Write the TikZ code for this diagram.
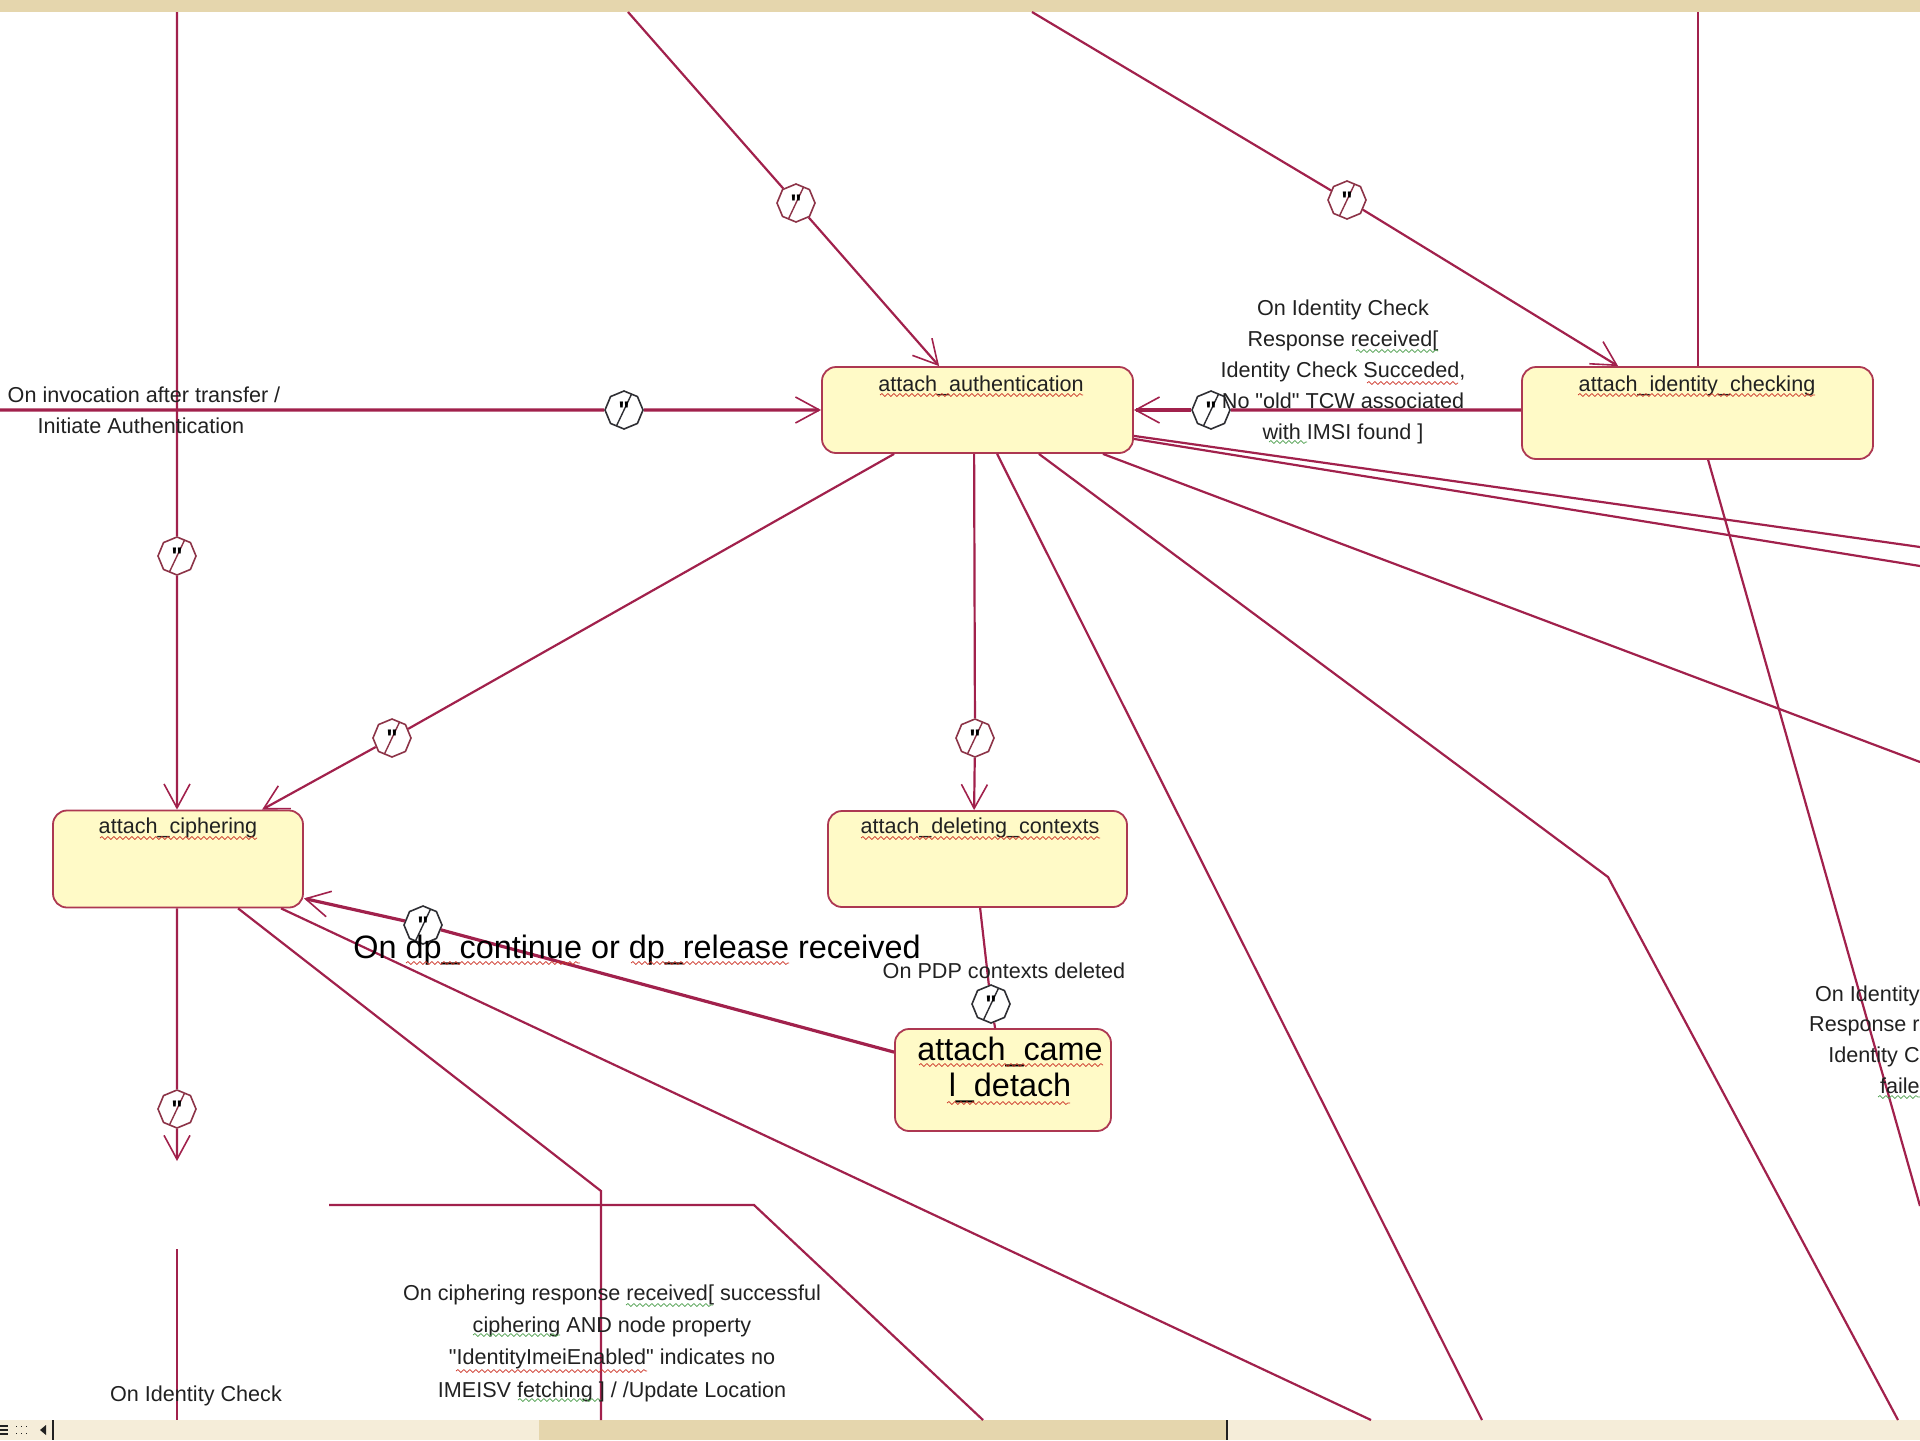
\documentclass[tikz,border=0pt]{standalone}
\usepackage{fontspec}
\setmainfont{Liberation Sans}[Ligatures=TeXOff]
\usetikzlibrary{arrows.meta,calc,decorations.pathmorphing,shapes.geometric}

\definecolor{wire}{rgb}{0.63,0.13,0.30}
\definecolor{stateline}{rgb}{0.68,0.22,0.32}
\definecolor{statefill}{rgb}{1.00,0.98,0.78}
\definecolor{ink}{rgb}{0.13,0.13,0.13}
\definecolor{guardred}{rgb}{0.55,0.20,0.28}
\definecolor{guardgrey}{rgb}{0.18,0.18,0.20}
\definecolor{barlight}{rgb}{0.96,0.93,0.85}
\definecolor{bardark}{rgb}{0.90,0.84,0.68}
\definecolor{squigred}{rgb}{0.80,0.20,0.15}
\definecolor{squiggreen}{rgb}{0.30,0.62,0.30}

\newcommand{\guardmark}{\raisebox{-.36em}{\bfseries\fontsize{12}{12}\selectfont"}}

\begin{document}
\begin{tikzpicture}[x=0.5pt, y=-0.5pt,
		state/.style={draw=stateline, fill=statefill, rounded corners=7pt, line width=0.9pt, inner sep=0pt},
		statename/.style={below, text=ink, inner sep=0pt, font=\fontsize{10.8}{13}\selectfont},
		edgename/.style={text=ink, align=center, inner sep=0pt, font=\fontsize{10.8}{15.4}\selectfont},
		bigname/.style={text=black, align=center, inner sep=0pt, font=\fontsize{16.2}{18.2}\selectfont},
		guard/.style={regular polygon, regular polygon sides=8, regular polygon rotate=22.5, minimum size=19pt, inner sep=0pt, fill=white, draw=#1, line width=0.8pt,
			path picture={\draw[#1, line width=0.7pt] ([xshift=5pt]path picture bounding box.south west) -- ([xshift=-5pt]path picture bounding box.north east);}},
		trans/.style={wire, line width=1.1pt},
		heavy/.style={wire, line width=1.6pt},
		tip/.style={-{Straight Barb[length=12pt,width=13pt,line width=0.8pt]}},
		wavered/.style={squigred, line width=0.35pt, decorate, decoration={snake, amplitude=0.7pt, segment length=3pt}},
		wavegreen/.style={wavered, squiggreen}]
	\useasboundingbox (0,0) rectangle (1920,1440);

	\fill[bardark] (0,0) rectangle (1920,12);
	\fill[barlight] (0,1420) rectangle (1920,1440);
	\fill[bardark] (539,1420) rectangle (1227,1440);
	\draw[ink, line width=0.6pt] (1227,1420) -- (1227,1440);
	\draw[ink, line width=0.6pt] (53,1420) -- (53,1440);
	\fill[ink] (46,1425) -- (46,1435) -- (40,1430) -- cycle;
	\draw[ink, line width=0.6pt] (0,1426) -- (8,1426) (0,1430) -- (8,1430) (0,1434) -- (8,1434);
	\draw[ink, line width=0.5pt, dotted] (16,1426) -- (28,1426) (16,1433) -- (28,1433);

	\node[state, minimum width=155.5pt, minimum height=43pt] (authBox) at (977.5,410) {};
	\node[state, minimum width=175.5pt, minimum height=46pt] (identityBox) at (1697.5,413) {};
	\node[state, minimum width=125pt, minimum height=48.5pt] (cipherBox) at (178,859) {};
	\node[state, minimum width=149.5pt, minimum height=48pt] (deleteBox) at (977.5,859) {};
	\node[state, minimum width=108pt, minimum height=51pt] (camelBox) at (1003,1080) {};

	\node[statename] (authName) at (981,375) {attach\_authentication};
	\node[statename] (identityName) at (1697,375) {attach\_identity\_checking};
	\node[statename] (cipherName) at (178,817) {attach\_ciphering};
	\node[statename] (deleteName) at (980,817) {attach\_deleting\_contexts};
	\node[bigname] (camelName) at (1010,1070) {attach\_came\\l\_detach};

	\node[guard=guardred] (guardTopA) at (796,203) {\guardmark};
	\node[guard=guardred] (guardTopB) at (1347,200) {\guardmark};
	\node[guard=guardgrey] (guardInvoke) at (624,410) {\guardmark};
	\node[guard=guardgrey] (guardCheck) at (1211,410) {\guardmark};
	\node[guard=guardred] (guardLeft) at (177,556) {\guardmark};
	\node[guard=guardred] (guardCipher) at (392,738) {\guardmark};
	\node[guard=guardred] (guardDelete) at (975,738) {\guardmark};
	\node[guard=guardgrey] (guardCamel) at (423,925) {\guardmark};
	\node[guard=guardgrey] (guardDeleted) at (991,1004) {\guardmark};
	\node[guard=guardred] (guardDown) at (177,1109) {\guardmark};

	\coordinate (topLeft) at (177,12);
	\coordinate (topA) at (628,12);
	\coordinate (topB) at (1032,12);
	\coordinate (topC) at (1698,12);
	\coordinate (edgeLeft) at (0,410);
	\coordinate (openDown) at (177,1161);
	\coordinate (resumeTop) at (177,1249);
	\coordinate (resumeEnd) at (177,1420);
	\coordinate (bendA) at (601,1191);
	\coordinate (endA) at (601,1420);
	\coordinate (endB) at (1371,1420);
	\coordinate (barStart) at (329,1205);
	\coordinate (barBend) at (754,1205);
	\coordinate (barEnd) at (983,1420);
	\coordinate (endC) at (1482,1420);
	\coordinate (bendD) at (1608,877);
	\coordinate (endD) at (1898,1420);
	\coordinate (rightA) at (1920,547);
	\coordinate (rightB) at (1920,566);
	\coordinate (rightC) at (1920,762);
	\coordinate (rightD) at (1920,1206);

	\draw[trans] (topLeft) -- (guardLeft);
	\draw[trans, tip] (guardLeft) -- (cipherBox.north -| guardLeft);
	\draw[trans] (topA) -- (guardTopA);
	\draw[trans, tip] (guardTopA) -- ($(authBox.north west)+(118,0)$);
	\draw[trans] (topB) -- (guardTopB);
	\draw[trans, tip] (guardTopB) -- ($(identityBox.north west)+(97,0)$);
	\draw[trans] (topC) -- (topC |- identityBox.north);
	\draw[heavy] (edgeLeft) -- (guardInvoke);
	\draw[heavy, tip] (guardInvoke) -- (authBox.west);
	\draw[heavy] ($(identityBox.west)+(0,-3)$) -- (guardCheck);
	\draw[heavy, tip] (guardCheck) -- (authBox.east);

	\draw[trans] ($(authBox.south east)+(0,-18)$) -- (rightA);
	\draw[trans] ($(authBox.south east)+(0,-15)$) -- (rightB);
	\draw[trans] ($(authBox.south east)+(-31,0)$) -- (rightC);
	\draw[trans] ($(authBox.south east)+(-95,0)$) -- (bendD) -- (endD);
	\draw[trans] ($(authBox.south west)+(176,0)$) -- (endC);
	\draw[trans] ($(authBox.south west)+(153,0)$) -- (guardDelete);
	\draw[trans, tip] (guardDelete) -- ($(deleteBox.north west)+(147,0)$);
	\draw[trans] ($(authBox.south west)+(73,0)$) -- (guardCipher);
	\draw[trans, tip] (guardCipher) -- ($(cipherBox.north west)+(210,0)$);
	\draw[trans] ($(identityBox.south west)+(187,0)$) -- (rightD);

	\draw[trans] ($(deleteBox.south west)+(153,0)$) -- (guardDeleted);
	\draw[trans] (guardDeleted) -- ($(camelBox.north west)+(101,0)$);
	\draw[heavy] ($(camelBox.north west)+(0,24)$) -- (guardCamel);
	\draw[heavy, tip] (guardCamel) -- ($(cipherBox.south east)+(0,-10)$);
	\draw[trans] (cipherBox.south -| guardDown) -- (guardDown);
	\draw[trans, tip] (guardDown) -- (openDown);
	\draw[trans] (resumeTop) -- (resumeEnd);
	\draw[trans] ($(cipherBox.south west)+(186,0)$) -- (bendA) -- (endA);
	\draw[trans] ($(cipherBox.south west)+(229,0)$) -- (endB);
	\draw[trans] (barStart) -- (barBend) -- (barEnd);

	\node[edgename] (invokeText) at (144,410) {On invocation after transfer /\\Initiate Authentication~~};
	\node[edgename] (checkText) at (1343,372) {On Identity Check\\Response received[\\Identity Check Succeded,\\No "old" TCW associated\\with IMSI found ]};
	\node[edgename, anchor=north east, align=right] (failText) at (1920,985) {On Identity\\Response r\\Identity C\\faile};
	\node[edgename] (deletedText) at (1004,971) {On PDP contexts deleted};
	\node[bigname] (camelText) at (637,950) {On dp\_continue or dp\_release received};
	\node[edgename, font=\fontsize{10.8}{16.2}\selectfont] (cipherText) at (612,1343) {On ciphering response received[ successful\\ciphering AND node property\\"IdentityImeiEnabled" indicates no\\IMEISV fetching ] / /Update Location};
	\node[edgename] (identityText) at (196,1396) {On Identity Check};

	\draw[wavered] (880,395) -- (1083,395);
	\draw[wavered] (1578,395) -- (1815,395);
	\draw[wavered] (100,838) -- (257,838);
	\draw[wavered] (861,838) -- (1100,838);
	\draw[wavered] (406,963) -- (580,963);
	\draw[wavered] (631,963) -- (789,963);
	\draw[wavered] (919,1065) -- (1103,1065);
	\draw[wavered] (947,1103) -- (1070,1103);
	\draw[wavered] (1367,383) -- (1458,383);
	\draw[wavered] (456,1371) -- (647,1371);
	\draw[wavegreen] (1356,351) -- (1438,351);
	\draw[wavegreen] (1269,442) -- (1307,442);
	\draw[wavegreen] (626,1305) -- (713,1305);
	\draw[wavegreen] (473,1335) -- (560,1335);
	\draw[wavegreen] (518,1400) -- (601,1400);
	\draw[wavegreen] (1878,1097) -- (1920,1097);
\end{tikzpicture}
\end{document}
